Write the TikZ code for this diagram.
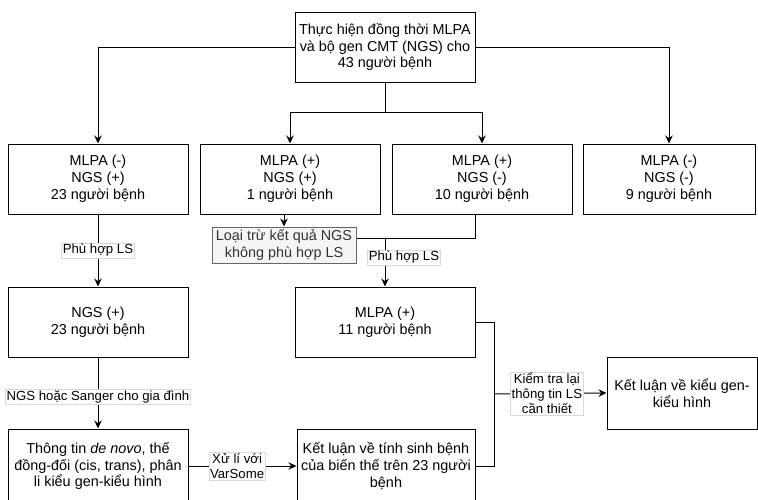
\documentclass[tikz,border=0pt]{standalone}
\usepackage{fontspec}
\setmainfont{Liberation Sans}
\usetikzlibrary{positioning,arrows.meta,calc}

\tikzset{
  box/.style={draw, line width=1pt, minimum width=180pt, minimum height=70pt, inner sep=2pt,
    align=center, font=\fontsize{14.4}{16.8}\selectfont},
  graybox/.style={box, fill=gray!8, draw=black!60, text=black!80, minimum width=144pt, minimum height=36pt},
  lbl/.style={fill=white, draw=black!15, line width=0.4pt, inner sep=1.2pt, align=center,
    font=\fontsize{13.2}{15}\selectfont},
  arr/.style={-{Stealth[length=8pt,width=7.5pt]}},
}

\begin{document}
\begin{tikzpicture}[x=1pt, y=-1pt, line width=1pt]
    \useasboundingbox (0,0) rectangle (758,499);
    % boxes
    \node[box] (top) at (385,47) {Thực hiện đồng thời MLPA\\và bộ gen CMT (NGS) cho\\43 người bệnh};
    \node[box] (b1) at (98,179) {MLPA (-)\\NGS (+)\\23 người bệnh};
    \node[box] (b2) at (290,179) {MLPA (+)\\NGS (+)\\1 người bệnh};
    \node[box] (b3) at (482,179) {MLPA (+)\\NGS (-)\\10 người bệnh};
    \node[box, minimum width=172pt] (b4) at (669,179) {MLPA (-)\\NGS (-)\\9 người bệnh};
    \node[graybox] (gray) at (284,245) {Loại trừ kết quả NGS\\không phù hợp LS};
    \node[box] (ngs) at (98,322) {NGS (+)\\23 người bệnh};
    \node[box] (mlpa) at (385,322) {MLPA (+)\\11 người bệnh};
    \node[box, minimum height=74pt] (info) at (98,466) {Thông tin \textit{de novo}, thế\\đồng-đối (cis, trans), phân\\li kiểu gen-kiểu hình};
    \node[box, minimum width=178pt, minimum height=74pt] (patho) at (386,466) {Kết luận về tính sinh bệnh\\của biến thế trên 23 người\\bệnh};
    \node[box, minimum width=150pt, minimum height=72pt] (geno) at (682,393) {Kết luận về kiểu gen-\\kiểu hình};

    % connectors
    \draw[arr] (top.west) -| (b1.north);
    \draw[arr] (top.east) -| (b4.north);
    \draw (top.south) -- (385,112) coordinate (split);
    \draw[arr] (split) -| (b2.north);
    \draw[arr] (split) -| (b3.north);
    \draw[arr] (gray.north |- b2.south) -- (gray.north);
    \coordinate (kink) at (475,238);
    \draw (kink |- b3.south) -- (kink) -- (kink -| gray.east);
    \draw[arr] (kink -| mlpa.north) -- node[lbl, pos=0.4, xshift=19pt] {Phù hợp LS} (mlpa.north);
    \draw[arr] (b1.south) -- node[lbl] {Phù hợp LS} (ngs.north);
    \draw[arr] (ngs.south) -- node[lbl, pos=0.55] {NGS hoặc Sanger cho gia đình} (info.north);
    \draw[arr] (info.east |- patho.west) -- node[lbl, pos=0.45] {Xử lí với\\VarSome} (patho.west);
    \coordinate (join) at (494,394);
    \draw (mlpa.east) -| (join);
    \draw (patho.east) -| (join);
    \draw[arr] (join) -- node[lbl, pos=0.47] {Kiểm tra lại\\thông tin LS\\cần thiết} (geno.west);
\end{tikzpicture}
\end{document}
